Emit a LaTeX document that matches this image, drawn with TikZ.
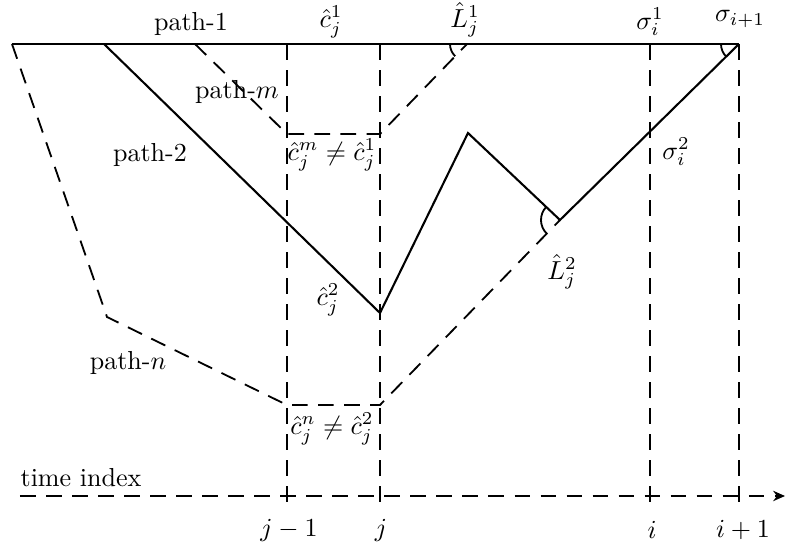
\documentclass[tikz,border=0pt]{standalone}
\usepackage{amsmath,amssymb}
\usepackage{tikz}
\usetikzlibrary{arrows.meta}

\begin{document}
\begin{tikzpicture}[x=0.0135cm,y=0.0135cm,>={Stealth[length=1.6mm,width=1.4mm]},
  dashline/.style={dash pattern=on 6pt off 4pt,line width=0.7pt},
  solidline/.style={line width=0.8pt,line join=miter}]
\useasboundingbox (0,0) rectangle (786,550);
% path points
\coordinate (tl) at (12,506);
\coordinate (p2) at (104,506);
\coordinate (pm) at (195,506);
\coordinate (l1) at (467,506);
\coordinate (s) at (739,506);
\coordinate (nk) at (107,233);
\coordinate (cn) at (287,145);
\coordinate (cn2) at (380,145);
\coordinate (cm) at (287,416);
\coordinate (cm1) at (380,416);
\coordinate (c2) at (380,237);
\coordinate (pk) at (468,417);
\coordinate (l2) at (560,330);
% time axis
\coordinate (ax0) at (20,54);
\coordinate (ax1) at (785,54);
\draw[dashline,->] (ax0) -- (ax1);
\foreach \name/\x in {jm/287,j/380,i/650,ip/739}{
  \coordinate (t\name) at (\x,506);
  \coordinate (b\name) at (\x,39);
  \draw[dashline] (t\name) -- (b\name);
}
% paths
\draw[solidline,line width=1pt] (tl) -- (s);
\draw[solidline] (p2) -- (c2) -- (pk) -- (l2) -- (s);
\draw[dashline] (pm) -- (cm) -- (cm1) -- (l1);
\draw[dashline] (tl) -- (nk) -- (cn) -- (cn2) -- (l2);
% angles
\draw[line width=0.7pt] (l1) ++(180:17) arc[start angle=180,end angle=226,radius=17];
\draw[line width=0.7pt] (s) ++(180:18) arc[start angle=180,end angle=225,radius=18];
\draw[line width=0.7pt] (l2) ++(136:19) arc[start angle=136,end angle=226,radius=19];
% labels
\node (path1) at (191,526) {path-1};
\node (cj1) at (331,528) {$\hat{c}_j^1$};
\node (lj1) at (465,530) {$\hat{L}_j^1$};
\node (si1) at (650,528) {$\sigma_i^1$};
\node (sip) at (740,531) {$\sigma_{i+1}$};
\node (pathm) at (237,458) {path-$m$};
\node (path2) at (150,395) {path-2};
\node (pathn) at (128,187) {path-$n$};
\node (cmne) at (332,395) {$\hat{c}_j^m \neq \hat{c}_j^1$};
\node (cj2) at (328,250) {$\hat{c}_j^2$};
\node (cnne) at (332,121) {$\hat{c}_j^n \neq \hat{c}_j^2$};
\node (lj2) at (562,278) {$\hat{L}_j^2$};
\node (si2) at (676,398) {$\sigma_i^2$};
\node (tidx) at (81,72) {time index};
\node (ljm) at (289,20) {$j-1$};
\node (lj) at (381,20) {$j$};
\node (li) at (652,20) {$i$};
\node (lip) at (743,20) {$i+1$};
\end{tikzpicture}
\end{document}
